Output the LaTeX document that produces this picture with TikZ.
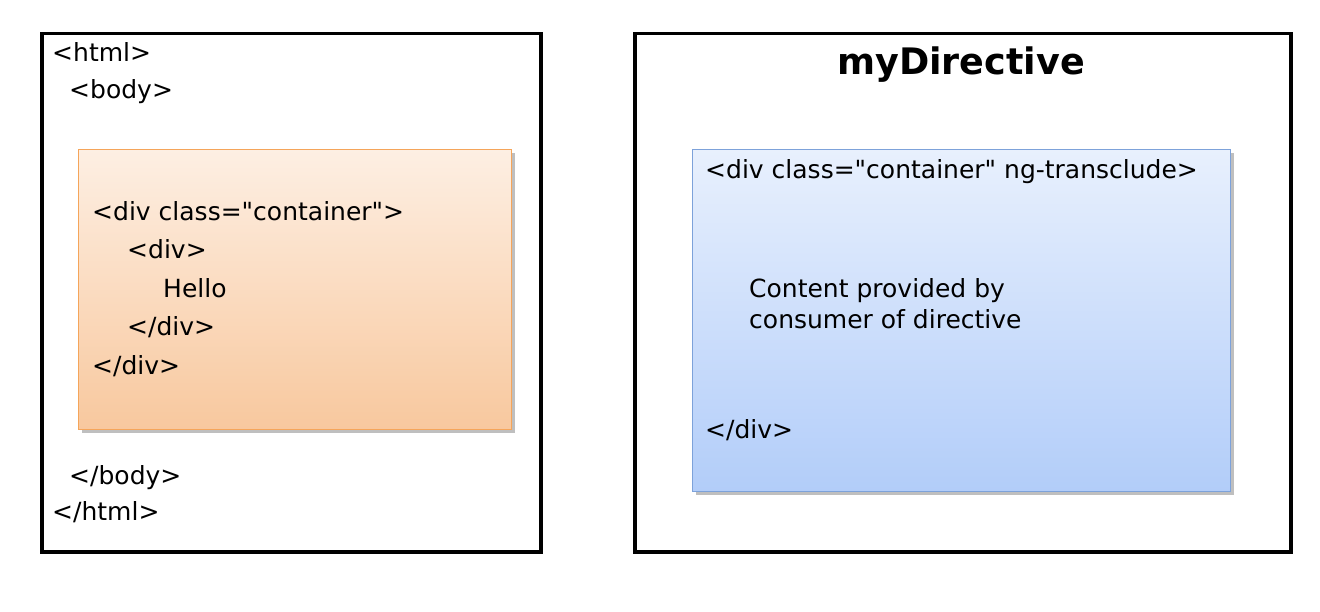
\documentclass[tikz,border=0pt]{standalone}
\usepackage{fontspec}
\setmainfont{DejaVu Sans}[Ligatures=TeXOff]
\usetikzlibrary{positioning}
\usetikzlibrary{shadows}

\definecolor{pageline}{RGB}{245,165,90}
\definecolor{pagetop}{RGB}{253,239,227}
\definecolor{pagebottom}{RGB}{248,200,158}
\definecolor{tmplline}{RGB}{125,162,218}
\definecolor{tmpltop}{RGB}{232,240,253}
\definecolor{tmplbottom}{RGB}{178,205,249}

\begin{document}
\begin{tikzpicture}[
    x=1pt, y=-1pt,
    outerbox/.style={draw=black,line width=3.5pt,anchor=north west,inner sep=0pt},
    pagebox/.style={draw=pageline,line width=0.8pt,anchor=north west,inner sep=0pt,
      top color=pagetop,bottom color=pagebottom,
      drop shadow={shadow xshift=4pt,shadow yshift=-4pt,opacity=0.5}},
    tmplbox/.style={draw=tmplline,line width=0.8pt,anchor=north west,inner sep=0pt,
      top color=tmpltop,bottom color=tmplbottom,
      drop shadow={shadow xshift=4pt,shadow yshift=-4pt,opacity=0.5}},
    code/.style={anchor=base west,inner sep=0pt,font=\fontsize{25}{30}\selectfont},
    title/.style={anchor=base,inner sep=0pt,font=\fontsize{36.5}{42}\selectfont\bfseries}
    ]

    \useasboundingbox (0,0) rectangle (1320,612);

    % left: the page
    \node[outerbox,minimum width=499pt,minimum height=518pt] (page) at (40,32) {};
    \node[pagebox,minimum width=433pt,minimum height=280pt] (container) at (78,149) {};

    \node[code] (html) at (52,62) {<html>};
    \node[code] (body) at (69,99) {<body>};
    \node[code] (div) at (92,221) {<div class="container">};
    \node[code] (inner) at (127,259) {<div>};
    \node[code] (hello) at (163,298) {Hello};
    \node[code] (innerend) at (127,336) {</div>};
    \node[code] (divend) at (92,374) {</div>};
    \node[code] (bodyend) at (69,484) {</body>};
    \node[code] (htmlend) at (52,520) {</html>};

    % right: the directive
    \node[outerbox,minimum width=656pt,minimum height=518pt] (directive) at (633,32) {};
    \node[tmplbox,minimum width=538pt,minimum height=342pt] (template) at (692,149) {};

    \node[title] (name) at (961,75) {myDirective};
    \node[code] (tdiv) at (705,179) {<div class="container" ng-transclude>};
    \node[code] (content) at (749,298) {Content provided by};
    \node[code] (consumer) at (749,328) {consumer of directive};
    \node[code] (tdivend) at (705,438) {</div>};

  \end{tikzpicture}
\end{document}
